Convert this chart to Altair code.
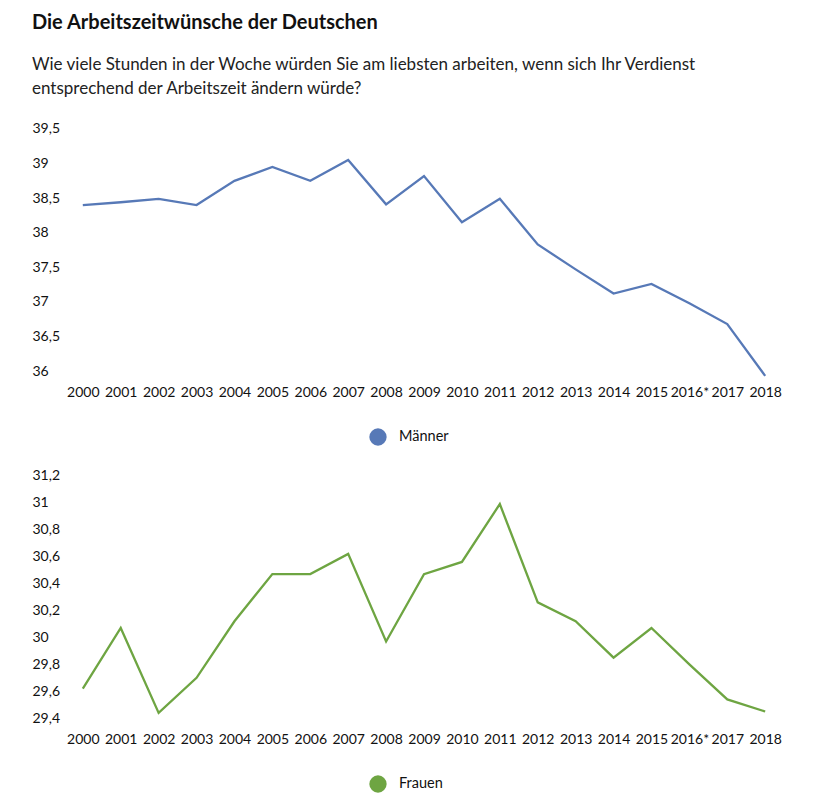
import altair as alt
import pandas as pd

years = ["2000", "2001", "2002", "2003", "2004", "2005", "2006", "2007", "2008", "2009",
         "2010", "2011", "2012", "2013", "2014", "2015", "2016*", "2017", "2018"]
maenner = [38.40, 38.44, 38.49, 38.40, 38.75, 38.95, 38.75, 39.05, 38.41, 38.82,
           38.15, 38.49, 37.83, 37.47, 37.12, 37.26, 36.98, 36.68, 35.93]
frauen = [29.62, 30.07, 29.44, 29.70, 30.12, 30.47, 30.47, 30.62, 29.97, 30.47,
          30.56, 30.99, 30.26, 30.12, 29.85, 30.07, 29.80, 29.54, 29.45]
m_ticks = [36, 36.5, 37, 37.5, 38, 38.5, 39, 39.5]
f_ticks = [29.4, 29.6, 29.8, 30, 30.2, 30.4, 30.6, 30.8, 31, 31.2]

BLUE = "#5779b7"
GREEN = "#6ea542"
FONT = "Lato"

df_m = pd.DataFrame({"Jahr": years, "Wert": maenner, "Gruppe": "Männer"})
df_f = pd.DataFrame({"Jahr": years, "Wert": frauen, "Gruppe": "Frauen"})

label_expr = "replace(toString(datum.value), '.', ',')"


def panel(df, name, color, domain, ticks):
    x = alt.X("Jahr:O", sort=years, title=None,
              scale=alt.Scale(type="point", padding=0.47),
              axis=alt.Axis(labelAngle=0, labelFontSize=14, labelPadding=7, ticks=False,
                            domain=False, grid=False, labelOverlap=False,
                            labelColor="#111", labelFont=FONT))
    y = alt.Y("Wert:Q", title=None,
              scale=alt.Scale(domain=domain, zero=False, nice=False),
              axis=alt.Axis(values=ticks, labelExpr=label_expr, labelAlign="left",
                            labelPadding=33, labelFontSize=14, ticks=False, domain=False,
                            grid=False, labelColor="#111", labelFont=FONT))
    color_enc = alt.Color("Gruppe:N",
                          scale=alt.Scale(domain=[name], range=[color]),
                          legend=alt.Legend(title=None, orient="none", legendX=304,
                                            legendY=306, symbolType="circle",
                                            symbolSize=300, symbolStrokeWidth=0,
                                            symbolFillColor=color, labelOffset=12,
                                            labelFontSize=14.5, labelFont=FONT,
                                            labelColor="#111", symbolOpacity=1))
    return alt.Chart(df).mark_line(strokeWidth=2.3).encode(
        x=x, y=y, color=color_enc
    ).properties(width=718, height=256)


top = panel(df_m, "Männer", BLUE, [35.9, 39.6], m_ticks)
bottom = panel(df_f, "Frauen", GREEN, [29.35, 31.25], f_ticks)

chart = alt.vconcat(top, bottom, spacing=22).resolve_scale(color="independent").properties(
    title=alt.TitleParams(
        text="Die Arbeitszeitwünsche der Deutschen",
        subtitle=["Wie viele Stunden in der Woche würden Sie am liebsten arbeiten, wenn sich Ihr Verdienst",
                  "entsprechend der Arbeitszeit ändern würde?"],
        anchor="start", frame="bounds", font=FONT, fontSize=20, fontWeight="bold",
        color="#111", subtitleFont=FONT, subtitleFontSize=17, subtitleColor="#222",
        subtitleLineHeight=24, subtitlePadding=24, offset=25
    ),
    padding={"left": 24, "top": 4, "right": 5, "bottom": 5},
    background="white"
).configure_view(stroke="transparent", strokeWidth=0)

chart.save("out.html", embed_options={"renderer": "svg", "actions": False})
